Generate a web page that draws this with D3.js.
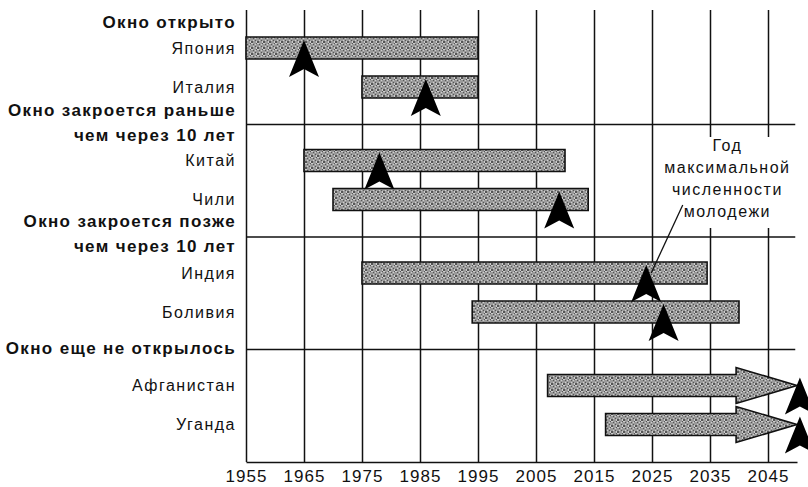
<!DOCTYPE html>
<meta charset="utf-8">
<title>Демографическое окно</title>
<style>
body{
  margin:0;
  background:#fff;
}
svg{
  display:block;
  font-family:"Liberation Sans", Arial, sans-serif;
}
.lbl{
  font-size:16px;
  letter-spacing:1.5px;
  fill:#111;
}
.hdr{
  font-size:17px;
  font-weight:bold;
  letter-spacing:1.35px;
  fill:#111;
}
.axis text{
  font-size:17px;
  letter-spacing:1px;
  fill:#111;
}
</style>
<svg width="808" height="487"></svg>
<script src="https://cdnjs.cloudflare.com/ajax/libs/d3/7.8.5/d3.min.js"></script>
<script>

// группы (заголовки), строки могут переноситься через \n
var groups = ["Окно открыто",
  "Окно закроется раньше\nчем через 10 лет",
  "Окно закроется позже\nчем через 10 лет",
  "Окно еще не открылось"];

var countries   = ["Япония", "Италия", "Китай", "Чили", "Индия", "Боливия", "Афганистан", "Уганда"];
var groupOf     = [0, 0, 1, 1, 2, 2, 3, 3];
var windowStart = [1955, 1975, 1965, 1970, 1975, 1994, 2007, 2017];
var windowEnd   = [1995, 1995, 2010, 2014, 2034.5, 2040, 2050, 2050];
var peakYear    = [1965, 1986, 1978, 2009, 2024, 2027, 2050.5, 2050.5];
var openEnded   = [false, false, false, false, false, false, true, true];

var tickYears = [1955, 1965, 1975, 1985, 1995, 2005, 2015, 2025, 2035, 2045];
var note = ["Год", "максимальной", "численности", "молодежи"];
var noteYear = 2038; // центр подписи

var svg = d3.select("svg"),
    width = +svg.attr("width"),
    height = +svg.attr("height");

var x = d3.scaleLinear().domain([1955, 2050]).range([246, 797]);
var plotTop = 10, plotBottom = 462;
var grp = d3.scaleBand().domain(d3.range(groups.length)).range([12, plotBottom]).padding(0);
var barH = 22, rowStep = 39, firstRow = 36;

function rowY(i) {
  var g = groupOf[i];
  var k = groupOf.slice(0, i).filter(function(v){ return v === g; }).length;
  return grp(g) + firstRow + k * rowStep;
}

// точечный растр для заливки
var defs = svg.append("defs");
var pat = defs.append("pattern").attr("id", "dots")
  .attr("patternUnits", "userSpaceOnUse").attr("width", 6).attr("height", 6);
pat.append("rect").attr("width", 6).attr("height", 6).attr("fill", "#9a9a9a");
for (var i = 0; i < 6; i++) {
  for (var j = 0; j < 6; j++) {
    var t = (i * 7 + j * 3 + i * j) % 5;
    if (t === 0) pat.append("rect").attr("x", i).attr("y", j).attr("width", 1).attr("height", 1).attr("fill", "#555");
    if (t === 3) pat.append("rect").attr("x", i).attr("y", j).attr("width", 1).attr("height", 1).attr("fill", "#cfcfcf");
  }
}

// сетка и ось
var axis = d3.axisBottom(x)
  .tickValues(tickYears)
  .tickFormat(d3.format("d"))
  .tickSizeInner(-(plotBottom - plotTop))
  .tickSizeOuter(0)
  .tickPadding(8);

var ax = svg.append("g")
  .attr("class", "axis")
  .attr("transform", "translate(0," + plotBottom + ")")
  .call(axis);
ax.select(".domain").attr("stroke", "#111").attr("stroke-width", 1.6);
ax.selectAll(".tick line").attr("stroke", "#111").attr("stroke-width", 1.5);

// разделители групп
svg.append("g").selectAll("line")
  .data(d3.range(1, groups.length))
  .enter().append("line")
  .attr("x1", x(1955)).attr("x2", x(2049.7))
  .attr("y1", function(d){ return grp(d); })
  .attr("y2", function(d){ return grp(d); })
  .attr("stroke", "#111").attr("stroke-width", 1.5);

// заголовки групп
var headShift = [-1, 0, -2, -12];
groups.forEach(function(txt, g) {
  var lines = txt.split("\n");
  var firstIdx = groupOf.indexOf(g);
  var last = rowY(firstIdx) - 25 + headShift[g];
  svg.append("text")
    .attr("class", "hdr")
    .attr("text-anchor", "end")
    .selectAll("tspan")
    .data(lines)
    .enter().append("tspan")
    .attr("x", 236)
    .attr("y", function(d, k){ return last - (lines.length - 1 - k) * 25; })
    .attr("dy", "0.35em")
    .text(function(d){ return d; });
});

// подписи стран
svg.append("g").selectAll("text")
  .data(countries)
  .enter().append("text")
  .attr("class", "lbl")
  .attr("text-anchor", "end")
  .attr("x", 236)
  .attr("y", function(d, i){ return rowY(i); })
  .attr("dy", "0.35em")
  .text(function(d){ return d; });

// полосы "окон"
var headLen = 10.5, headHalf = 18;
svg.append("g").selectAll("path")
  .data(countries)
  .enter().append("path")
  .attr("d", function(d, i) {
    var y0 = rowY(i) - barH / 2, y1 = rowY(i) + barH / 2, cy = rowY(i);
    var xs = x(windowStart[i]), xe = x(windowEnd[i]);
    if (!openEnded[i]) {
      return "M" + xs + "," + y0 + "H" + xe + "V" + y1 + "H" + xs + "Z";
    }
    var xh = x(windowEnd[i] - headLen);
    return "M" + xs + "," + y0 + "H" + xh + "V" + (cy - headHalf) +
      "L" + xe + "," + cy + "L" + xh + "," + (cy + headHalf) +
      "V" + y1 + "H" + xs + "Z";
  })
  .attr("fill", "url(#dots)")
  .attr("stroke", "#111")
  .attr("stroke-width", 1.6);

// подпись-выноска
var noteX = x(noteYear);
svg.append("rect")
  .attr("x", noteX - 64).attr("y", 137)
  .attr("width", 140).attr("height", 91)
  .attr("fill", "#fff");
svg.append("text")
  .attr("class", "lbl")
  .attr("text-anchor", "middle")
  .selectAll("tspan")
  .data(note)
  .enter().append("tspan")
  .attr("x", noteX)
  .attr("y", function(d, k){ return 151 + k * 22; })
  .text(function(d){ return d; });

var india = countries.indexOf("Индия");
svg.append("line")
  .attr("x1", x(2030.3)).attr("y1", 205)
  .attr("x2", x(peakYear[india]) + 5).attr("y2", rowY(india))
  .attr("stroke", "#111").attr("stroke-width", 1.3);

// стрелки — год максимальной численности молодежи
svg.append("g").selectAll("path")
  .data(countries)
  .enter().append("path")
  .attr("transform", function(d, i){
    return "translate(" + x(peakYear[i]) + "," + (rowY(i) - barH / 2 + 3) + ")";
  })
  .attr("d", "M0,0L15,37L0,29L-15,37Z")
  .attr("fill", "#000");

</script>
